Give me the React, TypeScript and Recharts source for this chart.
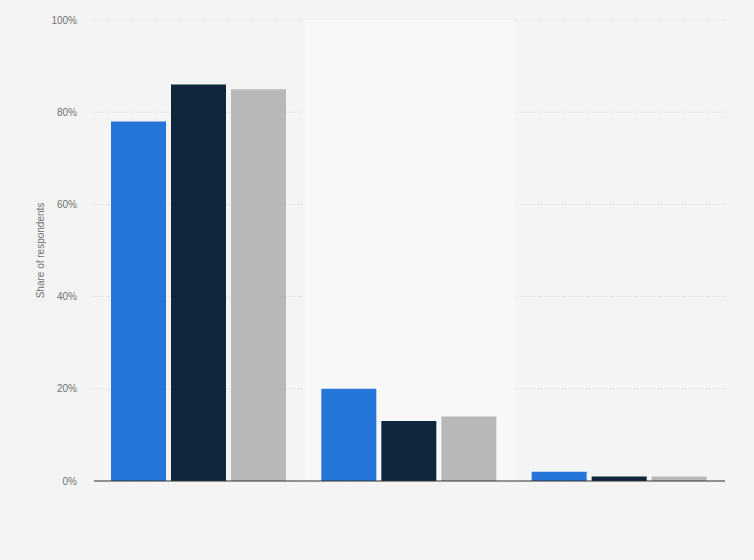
import { BarChart, Bar, XAxis, YAxis, CartesianGrid, ReferenceArea } from 'recharts';

const CATEGORIES = ['Yes', 'No', "Don't know"];
const SERIES_A = [78, 20, 2];
const SERIES_B = [86, 13, 1];
const SERIES_C = [85, 14, 1];
const Y_TICKS = [0, 20, 40, 60, 80, 100];

const COLORS = {
  a: '#2675d9',
  b: '#0f263d',
  c: '#b8b8b8',
  bg: '#f4f4f4',
  band: '#f8f8f8',
  grid: '#d4d4d4',
  text: '#707070',
};

const chartData = CATEGORIES.map((name, i) => ({
  name,
  a: SERIES_A[i],
  b: SERIES_B[i],
  c: SERIES_C[i],
}));

const FONT = '"Liberation Sans", Arial, sans-serif';

function YLabel(props: any) {
  const vb = props.viewBox || {};
  const cy = (vb.y ?? 20) + (vb.height ?? 461) / 2;
  return (
    <text
      x={44}
      y={cy}
      transform={`rotate(-90, 44, ${cy})`}
      textAnchor="middle"
      fontSize={10}
      fill={COLORS.text}
      fontFamily={FONT}
    >
      Share of respondents
    </text>
  );
}

export default function App() {
  return (
    <div style={{ position: 'absolute', left: 0, top: 0, width: 754, height: 560, background: COLORS.bg }}>
      <BarChart
        width={754}
        height={560}
        data={chartData}
        margin={{ top: 20, right: 29, bottom: 59, left: 34 }}
        barCategoryGap={17}
        barGap={5}
        style={{ fontFamily: FONT }}
      >
        <ReferenceArea x1={CATEGORIES[1]} x2={CATEGORIES[1]} fill={COLORS.band} fillOpacity={1} stroke="none" />
        <CartesianGrid vertical={false} stroke={COLORS.grid} strokeDasharray="1 2" />
        <XAxis dataKey="name" tick={false} tickLine={false} axisLine={{ stroke: '#333333', strokeWidth: 1 }} height={20} />
        <YAxis
          width={60}
          domain={[0, 100]}
          ticks={Y_TICKS}
          tickFormatter={(v) => `${v}%`}
          tick={{ fontSize: 10, fill: COLORS.text, fontFamily: FONT }}
          tickLine={false}
          tickSize={0}
          tickMargin={17}
          axisLine={false}
          label={{ content: YLabel }}
        />
        <Bar dataKey="a" fill={COLORS.a} isAnimationActive={false} />
        <Bar dataKey="b" fill={COLORS.b} isAnimationActive={false} />
        <Bar dataKey="c" fill={COLORS.c} isAnimationActive={false} />
      </BarChart>
    </div>
  );
}
